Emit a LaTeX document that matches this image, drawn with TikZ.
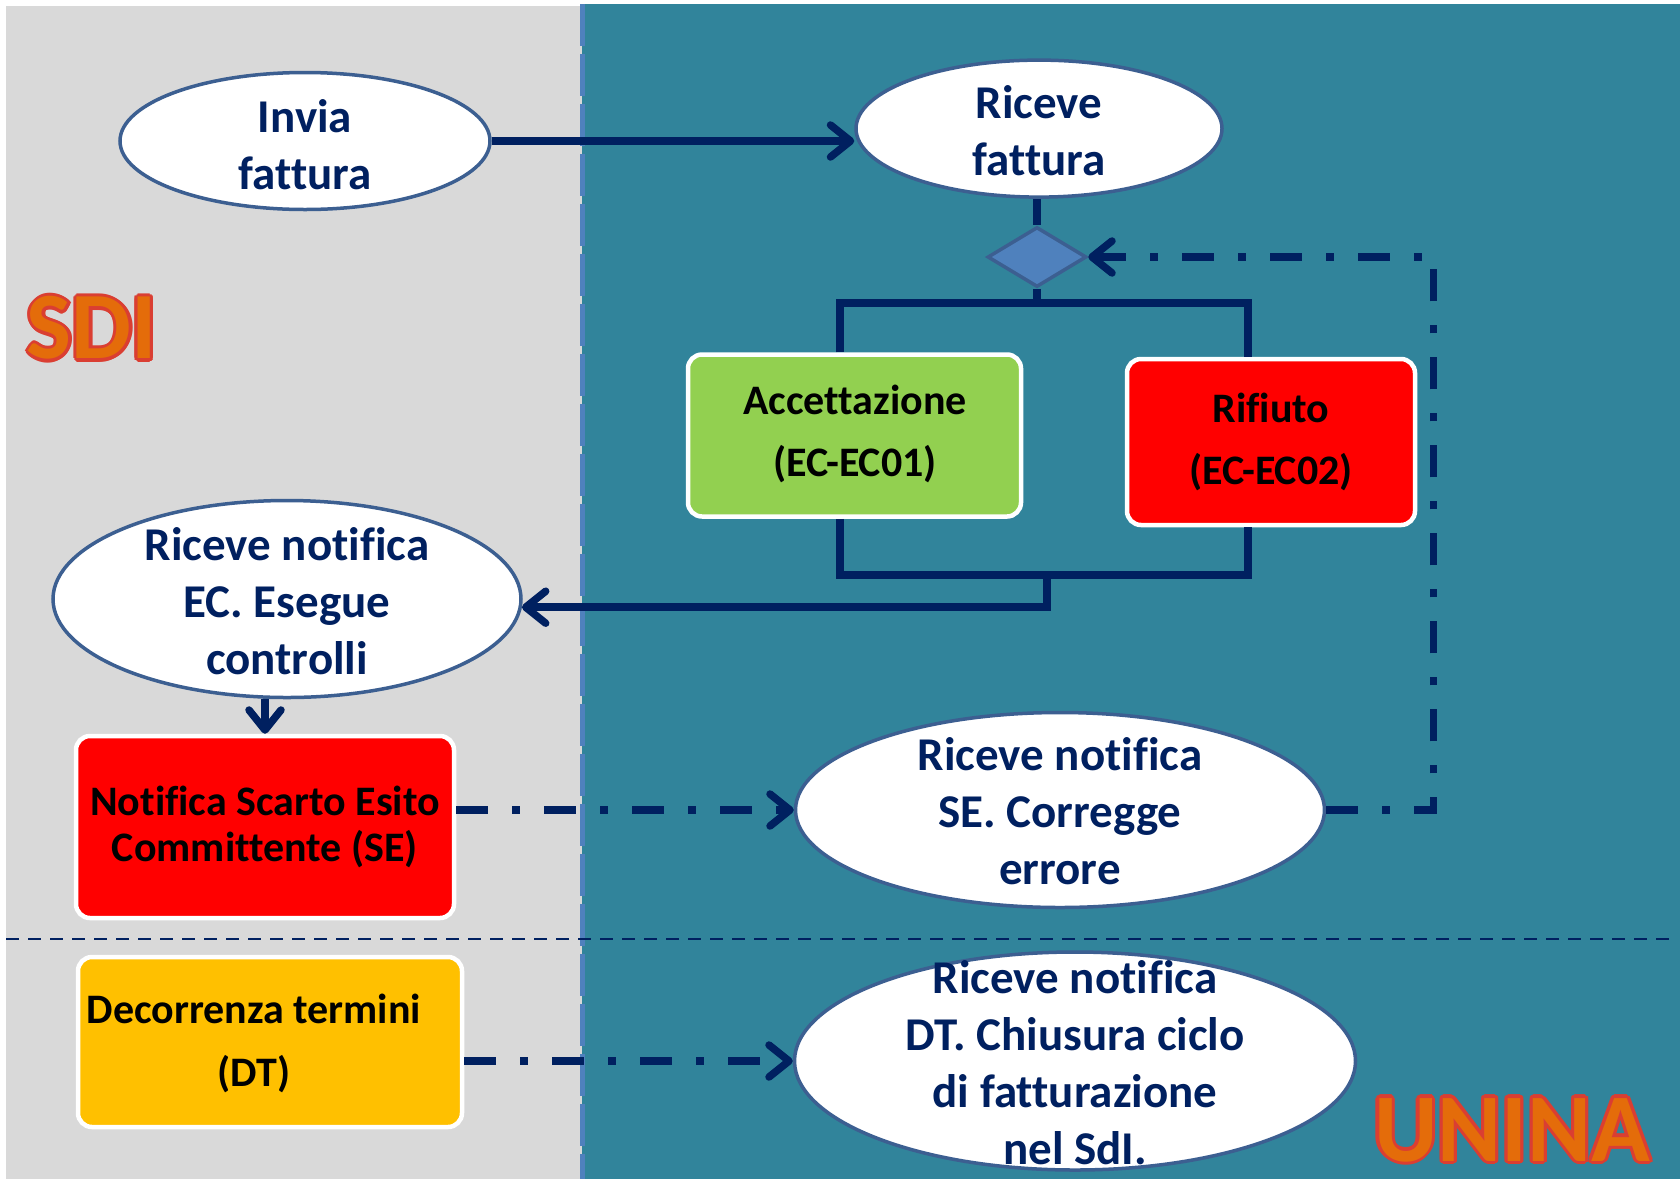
\documentclass[tikz,border=0pt]{standalone}
\usepackage{fontspec}
\setmainfont{Carlito}[Ligatures=NoCommon]
\usetikzlibrary{arrows.meta,shapes.geometric,calc}
\definecolor{teal1}{RGB}{49,132,155}
\definecolor{gray1}{RGB}{217,217,217}
\definecolor{navy}{RGB}{0,32,96}
\definecolor{ellbord}{RGB}{60,95,145}
\definecolor{divblue}{RGB}{79,129,189}
\definecolor{green1}{RGB}{146,208,80}
\definecolor{red1}{RGB}{255,0,0}
\definecolor{amber}{RGB}{255,192,0}
\definecolor{orange1}{RGB}{228,108,10}
\definecolor{outl}{RGB}{218,62,50}
\newcommand\myoutline[5]{% name, x, y, font, text
  \foreach \aa in {0,30,...,330}
    \node[font=#4, text=outl, inner sep=0] at ($(#2,#3)+(\aa:3.2)$) {#5};
  \node[font=#4, text=orange1, inner sep=0] (#1) at (#2,#3) {#5};}
\begin{document}
\begin{tikzpicture}[x=1pt,y=-1pt,
  ell/.style={ellipse, draw=ellbord, line width=3.5pt, fill=white, inner sep=0pt},
  etext/.style={font=\fontsize{47}{57}\selectfont\bfseries, text=navy, align=center, inner sep=0pt},
  box/.style={rectangle, rounded corners=14pt, draw=white, line width=4.5pt, inner sep=0pt},
  btext/.style={font=\fontsize{42}{62}\selectfont\bfseries, text=black, align=center, inner sep=0pt},
  conn/.style={navy, line width=7.5pt},
  dd/.style={navy, line width=7.5pt, dash pattern=on 32pt off 24pt on 8pt off 24pt},
  arr/.style={-{Straight Barb[length=20pt,width=32pt,round]}}]
\useasboundingbox (0,0) rectangle (1680,1179);
% backgrounds
\fill[white] (0,0) rectangle (1680,1179);
\fill[gray1] (6,6) rectangle (582,1179);
\fill[teal1] (582,4) rectangle (1680,1179);
\draw[divblue, line width=5pt, dash pattern=on 42pt off 8pt] (582,4) -- (582,1179);
\draw[navy, line width=2pt, dash pattern=on 13pt off 9pt] (6,938.6) -- (1673,938.6);
% big labels
\myoutline{sdi}{92}{328}{\fontsize{95}{95}\selectfont\bfseries}{SDI}
\myoutline{unina}{1512}{1130}{\fontsize{97}{97}\selectfont\bfseries}{UNINA}
% nodes
\node[ell, minimum width=370, minimum height=137] (invia) at (305,141) {};
\node[etext] (invia-t) at (305,145) {Invia\\fattura};
\node[ell, minimum width=366, minimum height=137] (riceve) at (1039,128.6) {};
\node[etext] (riceve-t) at (1039,131) {Riceve\\fattura};
\node[diamond, aspect=1.65, minimum width=99, minimum height=60, inner sep=0pt,
      fill=divblue, draw=ellbord, line width=3.5pt] (dia) at (1037,257) {};
\node[box, fill=green1, minimum width=333, minimum height=162] (acc) at (854.5,435.5) {};
\node[btext] (acc-t) at (855,434) {Accettazione\\(EC-EC01)};
\node[box, fill=red1, minimum width=288, minimum height=166] (rif) at (1271,442) {};
\node[btext] (rif-t) at (1271,441.5) {Rifiuto\\(EC-EC02)};
\node[ell, minimum width=468, minimum height=197] (ec) at (287,599) {};
\node[etext] (ec-t) at (287,601) {Riceve notifica\\EC. Esegue\\controlli};
\node[box, fill=red1, minimum width=378, minimum height=182] (nse) at (265,827) {};
\node[btext, font=\fontsize{42}{46}\selectfont\bfseries] (nse-t) at (265,826.6) {Notifica Scarto Esito\\Committente (SE)};
\node[ell, minimum width=529, minimum height=195] (se) at (1060,810) {};
\node[etext] (se-t) at (1060,811) {Riceve notifica\\SE. Corregge\\errore};
\node[box, fill=amber, minimum width=384, minimum height=170] (dec) at (270,1042) {};
\node[btext, font=\fontsize{42}{63}\selectfont\bfseries] (dec-t) at (254,1043) {Decorrenza termini\\(DT)};
\node[ell, minimum width=561, minimum height=218] (dt) at (1075,1061) {};
\node[etext] (dt-t) at (1075,1063) {Riceve notifica\\DT. Chiusura ciclo\\di fatturazione\\nel SdI.};
% helper coordinates
\coordinate (br) at (1037,303);
\coordinate (mg) at (1047,575);
\coordinate (fb) at (1433.5,257);
\coordinate (lx) at (840,0);
\coordinate (rx) at (1248,0);
% connectors
\draw[conn, arr] (invia.east) -- (invia.east -| riceve.west);
\draw[conn] (dia.north |- riceve.south) -- (dia.north);
\draw[conn] (dia.south) -- (br);
\draw[conn] (acc.north -| lx) -- (lx |- br) -- (rx |- br) -- (rif.north -| rx);
\draw[conn] (acc.south -| lx) -- (lx |- mg) -- (rx |- mg) -- (rif.south -| rx);
\draw[conn, arr] (mg) |- (ec.-2);
\draw[conn, arr] (ec.south -| nse.north) -- (nse.north);
\draw[dd, arr] (nse.east |- se.west) -- (se.west);
\draw[dd, arr] (se.east) -| (fb) |- (dia.east);
\draw[dd, arr] (dec.east |- dt.west) -- (dt.west);
\end{tikzpicture}
\end{document}
